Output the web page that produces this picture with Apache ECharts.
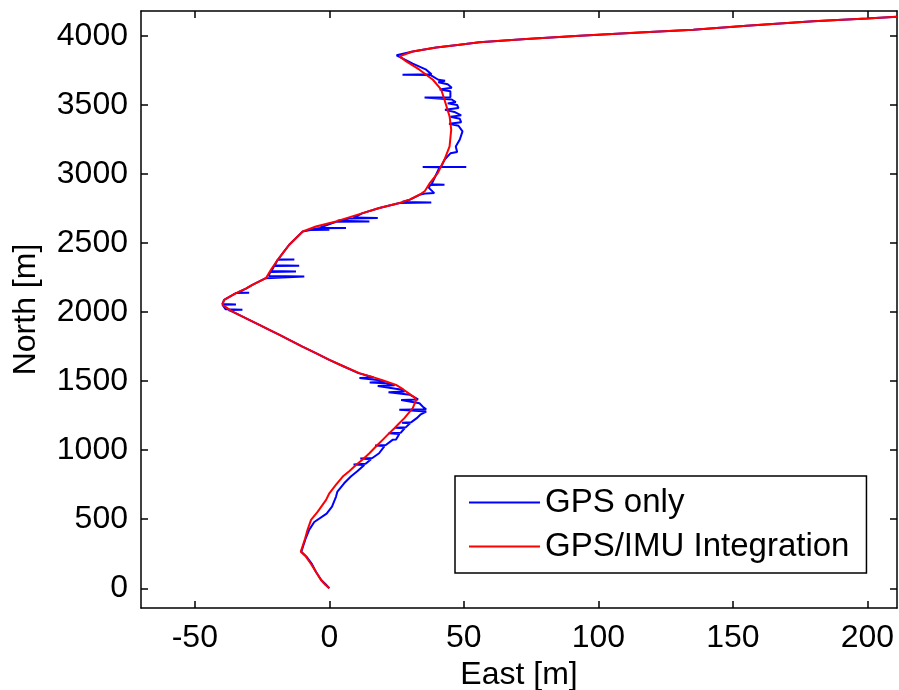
<!DOCTYPE html>
<html>
<head>
<meta charset="utf-8">
<script src="https://cdn.jsdelivr.net/npm/echarts@6/dist/echarts.min.js"></script>
<style>html,body{margin:0;padding:0;background:#fff;}#c{width:899px;height:690px;}</style>
</head>
<body>
<div id="c"></div>
<script>
// Tick labels
var xTicks = [-50, 0, 50, 100, 150, 200];
var yTicks = [0, 500, 1000, 1500, 2000, 2500, 3000, 3500, 4000];

// GPS/IMU Integration trajectory (East, North)
var imuEast = [0,-1.5,-3.1,-5,-6.8,-8.7,-10.6,-10,-9,-8.1,-6.8,-4.3,-1.2,0,2.5,5,7.5,9.9,12.5,14.9,17.5,19.8,22,24.2,26,27.9,31,32.3,31.5,30.3,27.5,24.8,20,17.4,11.2,5,0,-5,-10,-14.9,-18.5,-22.3,-26,-29.8,-33,-36,-39.7,-39.1,-34.7,-31,-28.6,-23.6,-21.7,-19.2,-17,-14.9,-9.9,-5,2.5,12.4,18.6,26.1,29.8,33.5,35.4,37.2,40.3,42.8,44.7,45.3,44.7,42.8,41.6,38.5,33.5,28.6,26.1,25.4,31,39.7,48.4,55.8,73.2,93.1,115.4,135.3,155.1,179.9,199.8,211];
var imuNorth = [0,25,60,120,176,229,265,301,360,423,495,555,640,688,750,809,850,893,935,978,1030,1075,1118,1159,1195,1232,1304,1364,1385,1401,1440,1473,1505,1522,1558,1610,1654,1703,1750,1799,1835,1872,1908,1944,1975,2004,2053,2089,2138,2170,2198,2246,2307,2379,2435,2488,2584,2620,2657,2717,2754,2790,2815,2850,2874,2930,3007,3104,3200,3321,3417,3538,3611,3683,3756,3816,3852,3864,3888,3917,3937,3954,3978,4002,4026,4046,4075,4106,4126,4140];

// GPS only trajectory (East, North)
var gpsEast = [0,-1.2,-3,-5,-6.5,-8.5,-10.4,-9.8,-8.8,-7.5,-5.6,-1,1,2.5,3,5.5,8,10.5,13,9,13.5,15.5,11.5,16,18.5,20.5,17,21,23.5,24.8,26,22,26.5,28,24.5,28.5,30,27,30.5,32.5,34,36,26,36,35,33.5,26.7,33,31.5,30,22,28,26.5,18,24.3,21,15,20.5,19.5,11.2,16.5,10.8,5,0,-5,-10,-14.9,-18.5,-22.3,-26,-29.8,-33,-36,-37.5,-32.3,-38.5,-39.7,-34.7,-39.8,-39.1,-34.7,-29.8,-34,-31,-28.6,-23.6,-9.3,-22.5,-22,-12.4,-21.5,-21.7,-20.5,-11.2,-20.3,-19.2,-13,-19,-17,-14.9,-9.9,-7,0,-6.5,-4,6.2,-3.5,2.5,14.9,3,8,18,9,12.4,18.6,26.1,37.9,27,30,33.5,36,39,37,37.5,42.8,38,41,34.7,50.9,41.5,42.8,45,47.5,47,48.5,49.5,48,44.5,49,48.5,45,49,46.5,43,48,47.5,44,47,45.5,45,35.4,45,45,41,45.5,44,40.5,43,40.5,37.5,27.2,38,36,31,27,25,31,39.7,48.4,55.8,73.2,93.1,115.4,135.3,155.1,179.9,199.8,211];
var gpsNorth = [0,25,60,120,176,229,265,301,360,423,480,540,591,664,700,760,809,850,893,897,901,935,939,943,978,1030,1034,1038,1075,1078,1118,1122,1126,1159,1163,1167,1195,1199,1203,1232,1260,1280,1292,1296,1310,1340,1364,1368,1385,1401,1420,1425,1440,1465,1470,1485,1490,1495,1505,1522,1527,1558,1610,1654,1703,1750,1799,1835,1872,1908,1944,1975,2004,2015,2017,2020,2053,2055,2058,2089,2138,2140,2142,2170,2198,2246,2258,2262,2290,2294,2298,2307,2334,2336,2340,2379,2381,2383,2435,2488,2584,2594,2596,2600,2607,2609,2612,2655,2657,2661,2679,2681,2685,2717,2754,2790,2794,2798,2815,2850,2860,2862,2900,2920,2922,2926,3049,3051,3051,3053,3104,3150,3160,3200,3250,3309,3350,3365,3375,3400,3415,3425,3450,3465,3478,3500,3512,3522,3540,3553,3555,3557,3600,3612,3625,3650,3665,3675,3683,3718,3720,3722,3756,3800,3840,3860,3888,3917,3937,3954,3978,4002,4026,4046,4075,4106,4126,4140];

function pairs(a, b) { var out = []; for (var i = 0; i < a.length; i++) out.push([a[i], b[i]]); return out; }
function plain(v) { return String(v); }

var font = "'Liberation Sans', Arial, sans-serif";
var chart = echarts.init(document.getElementById('c'), null, {renderer: 'canvas'});
var axisLineStyle = {color: '#000', width: 1.5};
chart.setOption({
  animation: false,
  backgroundColor: '#fff',
  grid: {left: 141, right: 2, top: 11, bottom: 82, containLabel: false, outerBoundsMode: 'none'},
  legend: {
    left: 455, top: 476, orient: 'vertical',
    backgroundColor: '#fff', borderColor: '#000', borderWidth: 1.5,
    padding: [10, 17, 10, 14], itemGap: 11,
    itemWidth: 71, itemHeight: 2, icon: 'rect',
    textStyle: {fontFamily: font, fontSize: 33, color: '#000'},
    data: ['GPS only', 'GPS/IMU Integration']
  },
  xAxis: [{
    type: 'value', min: -70, max: 211, position: 'bottom',
    name: 'East [m]', nameLocation: 'middle', nameGap: 51,
    nameTextStyle: {fontFamily: font, fontSize: 32, color: '#000'},
    axisLine: {show: true, onZero: false, lineStyle: axisLineStyle},
    axisTick: {show: true, inside: true, length: 7, customValues: xTicks, lineStyle: axisLineStyle},
    axisLabel: {show: true, customValues: xTicks, formatter: plain, margin: 14, fontFamily: font, fontSize: 32, color: '#000'},
    splitLine: {show: false}
  }, {
    type: 'value', min: -70, max: 211, position: 'top',
    axisLine: {show: true, onZero: false, lineStyle: axisLineStyle},
    axisTick: {show: true, inside: true, length: 7, customValues: xTicks, lineStyle: axisLineStyle},
    axisLabel: {show: false}, splitLine: {show: false}
  }],
  yAxis: [{
    type: 'value', min: -143, max: 4181, position: 'left',
    name: 'North [m]', nameLocation: 'middle', nameGap: 99, nameRotate: 90,
    nameTextStyle: {fontFamily: font, fontSize: 32, color: '#000'},
    axisLine: {show: true, onZero: false, lineStyle: axisLineStyle},
    axisTick: {show: true, inside: true, length: 7, customValues: yTicks, lineStyle: axisLineStyle},
    axisLabel: {show: true, customValues: yTicks, formatter: plain, margin: 13, fontFamily: font, fontSize: 32, color: '#000'},
    splitLine: {show: false}
  }, {
    type: 'value', min: -143, max: 4181, position: 'right',
    axisLine: {show: true, onZero: false, lineStyle: axisLineStyle},
    axisTick: {show: true, inside: true, length: 7, customValues: yTicks, lineStyle: axisLineStyle},
    axisLabel: {show: false}, splitLine: {show: false}
  }],
  series: [{
    name: 'GPS only', type: 'line', xAxisIndex: 0, yAxisIndex: 0,
    data: pairs(gpsEast, gpsNorth), symbol: 'none',
    lineStyle: {color: '#0000ff', width: 2}, itemStyle: {color: '#0000ff'}
  }, {
    name: 'GPS/IMU Integration', type: 'line', xAxisIndex: 0, yAxisIndex: 0,
    data: pairs(imuEast, imuNorth), symbol: 'none',
    lineStyle: {color: '#ff0000', width: 2}, itemStyle: {color: '#ff0000'}
  }]
});
</script>
</body>
</html>
